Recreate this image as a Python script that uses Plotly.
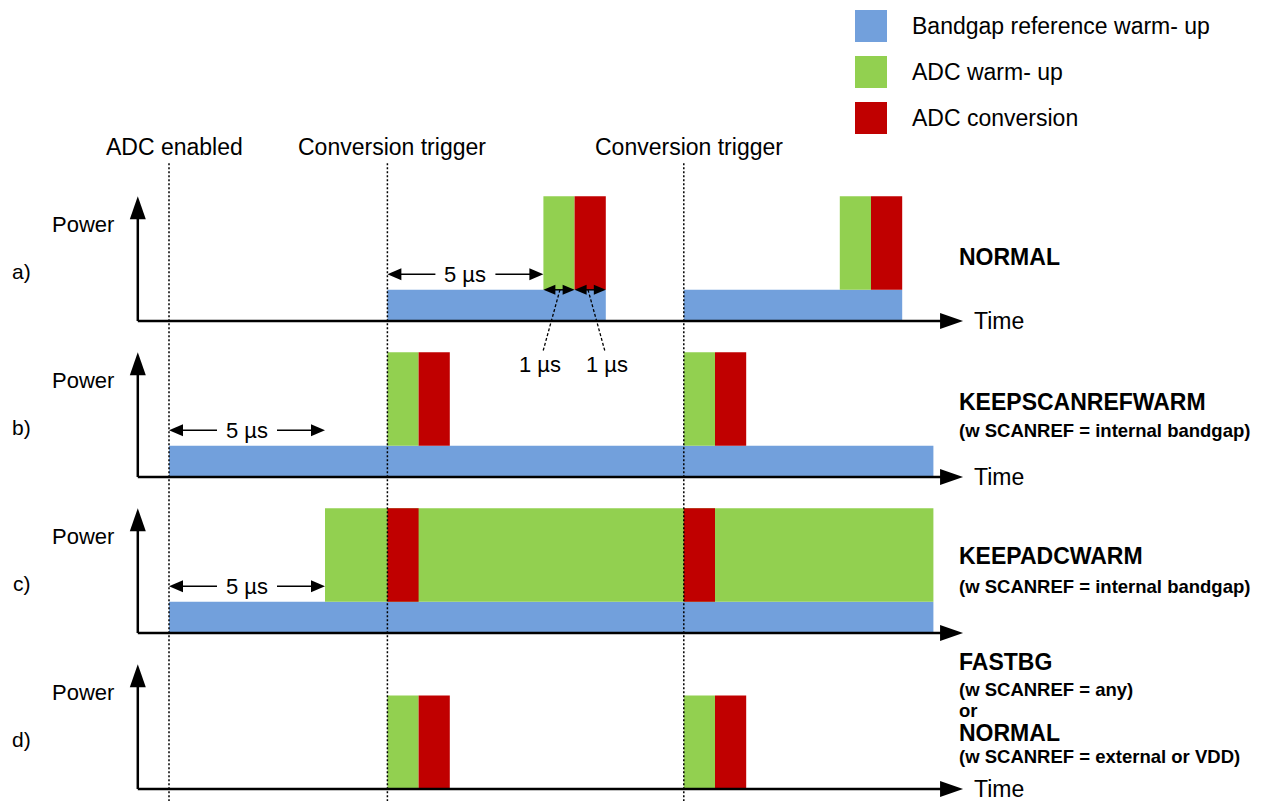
import plotly.graph_objects as go

W, H = 1266, 801
PX = 31.2  # pixels per µs, also pixels per power unit

# ---- data -------------------------------------------------------------
EVENT_TIMES = [0, 7, 16.5]
EVENT_LABELS = ["ADC enabled", "Conversion trigger", "Conversion trigger"]

ROW_LABELS = ["a)", "b)", "c)", "d)"]
# (start, end) in µs for every phase, one list per row
BANDGAP_WARMUP = [[(7, 14), (16.5, 23.5)], [(0, 24.5)], [(0, 24.5)], []]
ADC_WARMUP = [[(12, 13), (21.5, 22.5)], [(7, 8), (16.5, 17.5)], [(5, 24.5)], [(7, 8), (16.5, 17.5)]]
ADC_CONVERSION = [[(13, 14), (22.5, 23.5)], [(8, 9), (17.5, 18.5)], [(7, 8), (16.5, 17.5)], [(8, 9), (17.5, 18.5)]]
BANDGAP_POWER = 1
ADC_POWER = 3

# timing dimensions: (row, start, end, label)
SPANS = [(0, 7, 12, "5 µs"), (1, 0, 5, "5 µs"), (2, 0, 5, "5 µs")]
SMALL_SPANS = [(0, 12, 13, "1 µs"), (0, 13, 14, "1 µs")]

MODE_LINES = [
    [("NORMAL", "title")],
    [("KEEPSCANREFWARM", "title"), ("(w SCANREF = internal bandgap)", "note")],
    [("KEEPADCWARM", "title"), ("(w SCANREF = internal bandgap)", "note")],
    [("FASTBG", "title"), ("(w SCANREF = any)", "note"), ("or", "note"),
     ("NORMAL", "title"), ("(w SCANREF = external or VDD)", "note")],
]
SHOW_TIME = [True, True, False, True]

LEGEND_NAMES = ["Bandgap reference warm- up", "ADC warm- up", "ADC conversion"]
COLORS = ["#72A0DC", "#92D050", "#C00000"]

# ---- layout helpers ----------------------------------------------------
ROW_BASE = [15, 10, 5, 0]
MODE_OFFSETS = [[2.05], [2.4, 1.5], [2.47, 1.5], [4.06, 3.19, 2.52, 1.79, 1.04]]
FONT = "Liberation Sans, Arial, sans-serif"
AXIS_X0 = -1.0
AXIS_X1 = 25.45


def arrow(x0, y0, x1, y1, width=1.5, head=(14, 12), both=False):
    dx, dy = x1 - x0, y1 - y0
    length = (dx ** 2 + dy ** 2) ** 0.5
    ux, uy = dx / length, dy / length
    hl, hw = head[0] / PX, head[1] / PX
    sx0, sy0 = (x0 + ux * hl * 0.8, y0 + uy * hl * 0.8) if both else (x0, y0)
    sx1, sy1 = x1 - ux * hl * 0.8, y1 - uy * hl * 0.8
    out = [dict(type="line", x0=sx0, y0=sy0, x1=sx1, y1=sy1,
                line=dict(color="black", width=width))]
    tips = [(x1, y1, ux, uy)]
    if both:
        tips.append((x0, y0, -ux, -uy))
    for tx, ty, vx, vy in tips:
        bx, by = tx - vx * hl, ty - vy * hl
        nx, ny = -vy * hw / 2, vx * hw / 2
        out.append(dict(type="path",
                        path=f"M{tx},{ty} L{bx + nx},{by + ny} L{bx - nx},{by - ny} Z",
                        fillcolor="black", line=dict(width=0)))
    return out


fig = go.Figure()
shapes = []
annotations = []

# bars
for r, base in enumerate(ROW_BASE):
    bg = BANDGAP_WARMUP[r]
    adc_base = base + (BANDGAP_POWER if bg else 0)
    for segs, color, b, h in [
        (bg, COLORS[0], base, BANDGAP_POWER),
        (ADC_WARMUP[r], COLORS[1], adc_base, ADC_POWER),
        (ADC_CONVERSION[r], COLORS[2], adc_base, ADC_POWER),
    ]:
        if not segs:
            continue
        fig.add_trace(go.Bar(
            x=[(s + e) / 2 for s, e in segs],
            width=[e - s for s, e in segs],
            y=[h] * len(segs),
            base=[b] * len(segs),
            marker=dict(color=color, line=dict(width=0)),
            showlegend=False, hoverinfo="skip",
        ))

# event dotted lines + labels
y_bottom = -12 / PX
for t, label in zip(EVENT_TIMES, EVENT_LABELS):
    shapes.append(dict(type="line", x0=t, x1=t, y0=20.06, y1=y_bottom,
                       line=dict(color="black", width=1.5, dash="2px,2px")))
    annotations.append(dict(x=t, y=20.58, xshift=5, text=label, showarrow=False,
                            xanchor="center", yanchor="middle",
                            font=dict(size=23, color="black", family=FONT)))

# axes per row
for r, base in enumerate(ROW_BASE):
    shapes += arrow(AXIS_X0, base, AXIS_X0, base + 4, width=2.5, head=(23, 16))
    shapes += arrow(AXIS_X0, base, AXIS_X1, base, width=2.5, head=(23, 16))
    annotations.append(dict(x=-2.76, y=base + 3.1, text="Power", showarrow=False,
                            xanchor="center", yanchor="middle",
                            font=dict(size=22, color="black", family=FONT)))
    annotations.append(dict(x=-4.72, y=base + 1.6, text=ROW_LABELS[r], showarrow=False,
                            xanchor="center", yanchor="middle",
                            font=dict(size=21, color="black", family=FONT)))
    if SHOW_TIME[r]:
        annotations.append(dict(x=25.75, y=base, text="Time", showarrow=False,
                                xanchor="left", yanchor="middle",
                                font=dict(size=23, color="black", family=FONT)))
    for (txt, kind), off in zip(MODE_LINES[r], MODE_OFFSETS[r]):
        annotations.append(dict(x=25.26, y=base + off, text=f"<b>{txt}</b>", showarrow=False,
                                xanchor="left", yanchor="middle",
                                font=dict(size=23 if kind == "title" else 18.5,
                                          color="black", family=FONT)))

# 5 µs spans
gap = 30 / PX
for r, s, e, label in SPANS:
    y = ROW_BASE[r] + 1.5
    mid = (s + e) / 2
    shapes += arrow(mid - gap, y, s, y, width=1.5, head=(14, 12))
    shapes += arrow(mid + gap, y, e, y, width=1.5, head=(14, 12))
    annotations.append(dict(x=mid, y=y, text=label, showarrow=False,
                            xanchor="center", yanchor="middle",
                            font=dict(size=22, color="black", family=FONT)))

# 1 µs spans with leader lines
for i, (r, s, e, label) in enumerate(SMALL_SPANS):
    y = ROW_BASE[r] + BANDGAP_POWER
    shapes += arrow(s, y, e, y, width=1.5, head=(12, 10), both=True)
    mid = (s + e) / 2
    lx = mid - 0.5 if i == 0 else mid + 0.5
    shapes.append(dict(type="line", x0=mid + (0.03 if i == 0 else -0.07), y0=y,
                       x1=lx + (-0.01 if i == 0 else -0.03), y1=ROW_BASE[r] - 0.96,
                       line=dict(color="black", width=1.3, dash="3px,2px")))
    annotations.append(dict(x=lx - (0.11 if i == 0 else -0.04), y=ROW_BASE[r] - 1.38,
                            text=label, showarrow=False,
                            xanchor="center", yanchor="middle",
                            font=dict(size=22, color="black", family=FONT)))

# legend drawn by hand
legend_y = [26, 72, 118]
for name, color, yc in zip(LEGEND_NAMES, COLORS, legend_y):
    shapes.append(dict(type="rect", xref="paper", yref="paper",
                       x0=855 / W, x1=887 / W, y0=1 - (yc - 16) / H, y1=1 - (yc + 16) / H,
                       fillcolor=color, line=dict(width=0)))
    annotations.append(dict(xref="paper", yref="paper", x=910 / W, y=1 - yc / H,
                            text=name, showarrow=False, xanchor="left", yanchor="middle",
                            font=dict(size=23, color="black", family=FONT)))

fig.update_layout(
    width=W, height=H,
    margin=dict(l=0, r=0, t=0, b=0),
    paper_bgcolor="white", plot_bgcolor="white",
    barmode="overlay",
    hovermode=False,
    xaxis=dict(visible=False, range=[-169 / PX, -169 / PX + W / PX], fixedrange=True),
    yaxis=dict(visible=False, range=[y_bottom, y_bottom + H / PX], fixedrange=True),
    shapes=shapes,
    annotations=annotations,
    showlegend=False,
)

# page body has a default 8px margin; drop it so the figure fills the window
fig.write_html("out.html", config={"displayModeBar": False},
               post_script="document.body.style.margin = '0px';")
